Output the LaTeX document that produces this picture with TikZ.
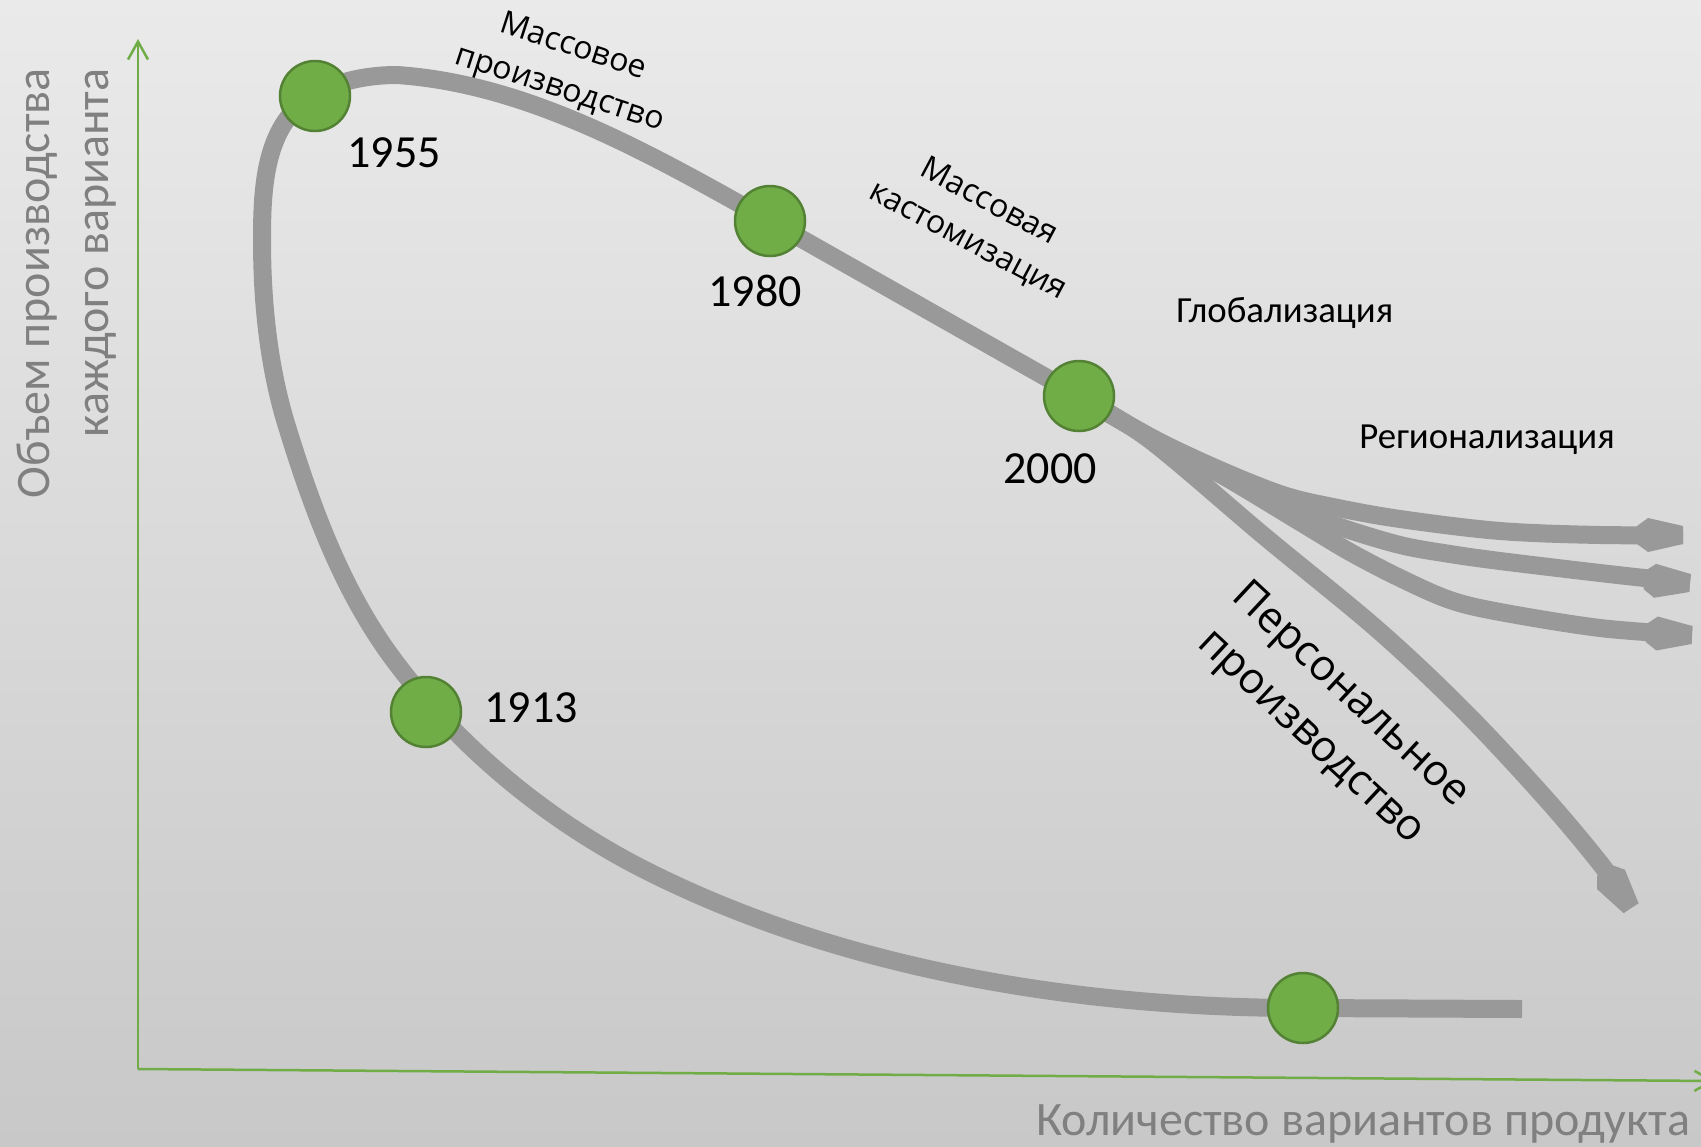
\documentclass[tikz,border=0pt]{standalone}
\usepackage{fontspec}
\setmainfont{Carlito}
\newfontfamily\osans{Open Sans}
\usetikzlibrary{arrows.meta}
\definecolor{bgtop}{RGB}{234,234,234}
\definecolor{bgbot}{RGB}{200,200,200}
\definecolor{curvegray}{RGB}{153,153,153}
\definecolor{dotgreen}{RGB}{112,173,71}
\definecolor{dotedge}{RGB}{84,130,53}
\definecolor{axisgreen}{RGB}{112,173,71}
\definecolor{labelgray}{RGB}{128,128,128}
\begin{document}
\begin{tikzpicture}[x=0.5pt,y=-0.5pt,
  dot/.style={circle,minimum size=35pt,inner sep=0pt,fill=dotgreen,draw=dotedge,line width=1.25pt},
  band/.style={draw=curvegray,line width=9pt,line cap=butt,line join=round},
  tipk/.pic={\fill[curvegray] (-46,9)--(-35,17)--(0,9)--(0,-9)--(-35,-17)--(-46,-9)--cycle;},
  axisline/.style={draw=axisgreen,line width=1.25pt,-{Straight Barb[length=9pt,width=10pt]}},
  year/.style={font=\fontsize{23}{27}\selectfont,inner sep=0pt,anchor=base west},
  axislabel/.style={font=\fontsize{24}{29.5}\selectfont,text=labelgray,inner sep=0pt},
  phase/.style={font=\osans\fontsize{16}{22}\selectfont,align=center,inner sep=0pt},
  bigphase/.style={font=\osans\fontsize{21.5}{29}\selectfont,align=center,inner sep=0pt},
  region/.style={font=\fontsize{18.4}{22}\selectfont,inner sep=0pt,anchor=base west}]
\useasboundingbox (0,0) rectangle (1701,1146);
\shade[top color=bgtop,bottom color=bgbot] (0,0) rectangle (1701,1146);
% axes
\coordinate (O) at (138,1069);
\coordinate (ytop) at (138,39);
\coordinate (xend) at (1715,1081);
\draw[axisline] (O) -- (ytop);
\draw[axisline] (O) -- (xend);
% key points
\coordinate (p1955) at (315,96);
\coordinate (p1913) at (426,712);
\coordinate (p1980) at (770,221);
\coordinate (p2000) at (1079,396);
\coordinate (p0) at (1303,1008);
\coordinate (start) at (1522,1009);
\coordinate (endA) at (1683,535);
\coordinate (endB) at (1690,583);
\coordinate (endC) at (1692,635);
\coordinate (endP) at (1631,908);
% main curve
\draw[band] (start) -- (p0)
  .. controls (1083,1008) and (848,971) .. (651,873)
  .. controls (548,822) and (455,745) .. (388,652)
  .. controls (339,583) and (310,502) .. (285,420)
  .. controls (268,362) and (262,300) .. (262,240)
  .. controls (262,193) and (264,136) .. (300,105)
  .. controls (326,83) and (363,75) .. (397,75)
  .. controls (530,84) and (654,156) .. (p1980)
  -- (p2000);
% branches
\draw[band] plot[smooth,tension=0.55] coordinates {(p2000) (1150,437) (1220,470) (1283,495) (1333,507) (1400,519) (1500,531) (1600,535) (endA)};
\draw[band] plot[smooth,tension=0.55] coordinates {(p2000) (1150,437) (1220,472) (1290,508) (1340,527) (1400,545) (1450,554) (1500,561) (1600,573) (endB)};
\draw[band] plot[smooth,tension=0.55] coordinates {(p2000) (1150,437) (1220,474) (1300,522) (1350,552) (1400,578) (1450,600) (1500,612) (1600,628) (endC)};
\draw[band] plot[smooth,tension=0.55] coordinates {(p2000) (1150,440) (1264,536) (1378,630) (1465,712) (1547,800) (1603,867) (endP)};
\pic[rotate=0] at (endA) {tipk};
\pic[rotate=-3.6] at (endB) {tipk};
\pic[rotate=-2.5] at (endC) {tipk};
\pic[rotate=-55] at (endP) {tipk};
% circles
\node[dot] (c1955) at (p1955) {};
\node[dot] (c1913) at (p1913) {};
\node[dot] (c1980) at (p1980) {};
\node[dot] (c2000) at (p2000) {};
\node[dot] (c0) at (p0) {};
% years
\node[year] (y1955) at (347,167) {1955};
\node[year] (y1913) at (484,722) {1913};
\node[year] (y1980) at (708,306) {1980};
\node[year] (y2000) at (1003,483) {2000};
% phase labels
\node[phase,rotate=-18] (mp) at (566,69) {Массовое\\производство};
\node[phase,rotate=-28] (mc) at (978,222) {Массовая\\кастомизация};
\node[bigphase,rotate=-43] (pp) at (1330,717) {Персональное\\производство};
\node[region] (glob) at (1176,322) {Глобализация};
\node[region] (reg) at (1359,448) {Регионализация};
% axis labels
\node[axislabel,rotate=90,align=right,anchor=east] (ylab) at (67,68) {Объем производства\\каждого варианта};
\node[axislabel,anchor=base west] (xlab) at (1036,1135) {Количество вариантов продукта};
\end{tikzpicture}
\end{document}
